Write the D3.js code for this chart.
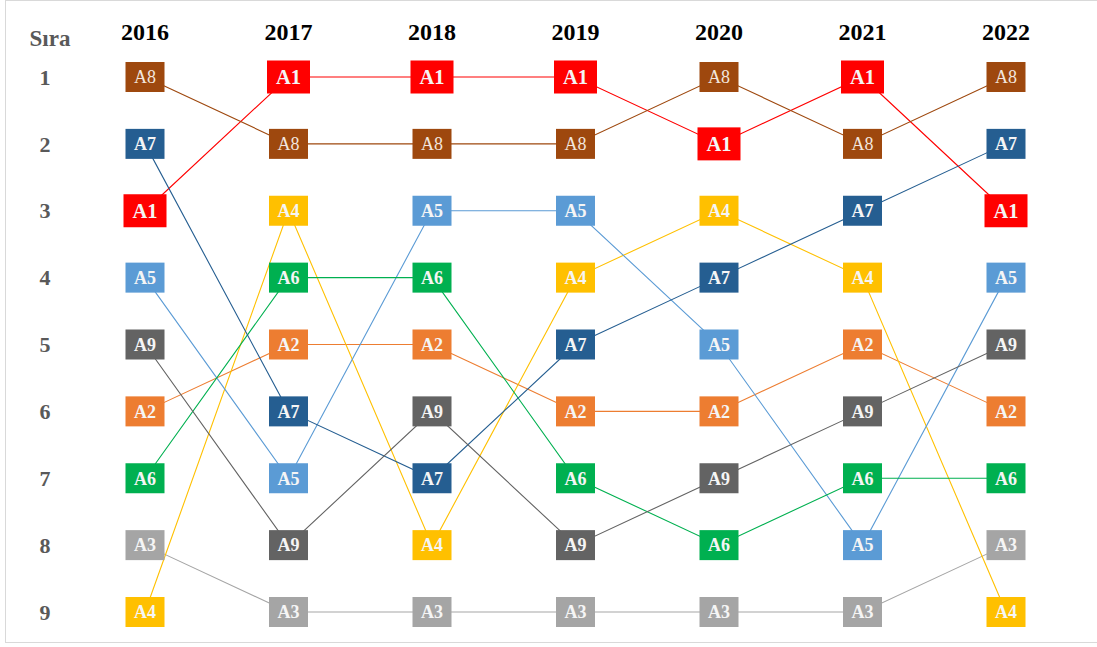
<!DOCTYPE html>
<html>
<head>
<meta charset="utf-8">
<script src="https://cdn.jsdelivr.net/npm/d3@7"></script>
<style>
  html, body { margin: 0; padding: 0; background: #fff; }
  svg { display: block; }
</style>
</head>
<body>
<svg id="chart" width="1097" height="647"></svg>
<script>
// Years shown as columns
const years = ["2016", "2017", "2018", "2019", "2020", "2021", "2022"];
// Rank positions (rows)
const ranks = [1, 2, 3, 4, 5, 6, 7, 8, 9];
// Series order per year: index 0 = rank 1
const order2016 = ["A8", "A7", "A1", "A5", "A9", "A2", "A6", "A3", "A4"];
const order2017 = ["A1", "A8", "A4", "A6", "A2", "A7", "A5", "A9", "A3"];
const order2018 = ["A1", "A8", "A5", "A6", "A2", "A9", "A7", "A4", "A3"];
const order2019 = ["A1", "A8", "A5", "A4", "A7", "A2", "A6", "A9", "A3"];
const order2020 = ["A8", "A1", "A4", "A7", "A5", "A2", "A9", "A6", "A3"];
const order2021 = ["A1", "A8", "A7", "A4", "A2", "A9", "A6", "A5", "A3"];
const order2022 = ["A8", "A7", "A1", "A5", "A9", "A2", "A6", "A3", "A4"];
const orders = [order2016, order2017, order2018, order2019, order2020, order2021, order2022];
// Series names and their colours
const series = ["A1", "A2", "A3", "A4", "A5", "A6", "A7", "A8", "A9"];
const colors = ["#FF0000", "#ED7D31", "#A5A5A5", "#FFC000", "#5B9BD5", "#00B050", "#255E91", "#9E480E", "#636363"];

const svg = d3.select("#chart");
const FONT = "'Liberation Serif', 'Times New Roman', serif";

const x = d3.scalePoint().domain(years).range([145, 1006]);
const y = d3.scalePoint().domain(ranks).range([77, 612]);
const color = d3.scaleOrdinal().domain(series).range(colors);

// Outer frame
svg.append("rect")
  .attr("x", 5.5).attr("y", 0.5)
  .attr("width", 1100).attr("height", 642)
  .attr("fill", "none").attr("stroke", "#D9D9D9").attr("stroke-width", 1);

// Build per-series paths: rank of each series in each year
const points = [];
years.forEach((yr, i) => {
  orders[i].forEach((name, r) => {
    points.push({ year: yr, rank: ranks[r], name });
  });
});
const bySeries = d3.group(points, d => d.name);

const line = d3.line().x(d => x(d.year)).y(d => y(d.rank));

svg.append("g").selectAll("path")
  .data(series)
  .join("path")
  .attr("d", s => line(bySeries.get(s)))
  .attr("fill", "none")
  .attr("stroke", s => color(s))
  .attr("stroke-width", 1.1);

// Column headers
svg.append("g").selectAll("text")
  .data(years)
  .join("text")
  .attr("x", d => x(d))
  .attr("y", 40)
  .attr("text-anchor", "middle")
  .attr("font-family", FONT)
  .attr("font-weight", "bold")
  .attr("font-size", 24)
  .attr("fill", "#000")
  .text(d => d);

// Row header and rank labels
svg.append("text")
  .attr("x", 50).attr("y", 46)
  .attr("text-anchor", "middle")
  .attr("font-family", FONT)
  .attr("font-weight", "bold")
  .attr("font-size", 23)
  .attr("fill", "#595959")
  .text("Sıra");

svg.append("g").selectAll("text")
  .data(ranks)
  .join("text")
  .attr("x", 45)
  .attr("y", d => y(d))
  .attr("dy", "0.35em")
  .attr("text-anchor", "middle")
  .attr("font-family", FONT)
  .attr("font-weight", "bold")
  .attr("font-size", 22)
  .attr("fill", "#595959")
  .text(d => d);

// Boxes with labels
const cells = svg.append("g").selectAll("g")
  .data(points)
  .join("g")
  .attr("transform", d => `translate(${x(d.year)},${y(d.rank)})`);

cells.append("rect")
  .attr("x", d => d.name === "A1" ? -21.5 : -19.5)
  .attr("y", d => d.name === "A1" ? -16.5 : -15)
  .attr("width", d => d.name === "A1" ? 43 : 39)
  .attr("height", d => d.name === "A1" ? 33 : 30)
  .attr("fill", d => color(d.name));

cells.append("text")
  .attr("text-anchor", "middle")
  .attr("dy", "0.35em")
  .attr("font-family", FONT)
  .attr("font-weight", d => d.name === "A8" ? "normal" : "bold")
  .attr("font-size", d => d.name === "A1" ? 20.5 : 18)
  .attr("fill", d => d.name === "A8" ? "#F2E6DE" : "#F5F5F5")
  .text(d => d.name);
</script>
</body>
</html>
